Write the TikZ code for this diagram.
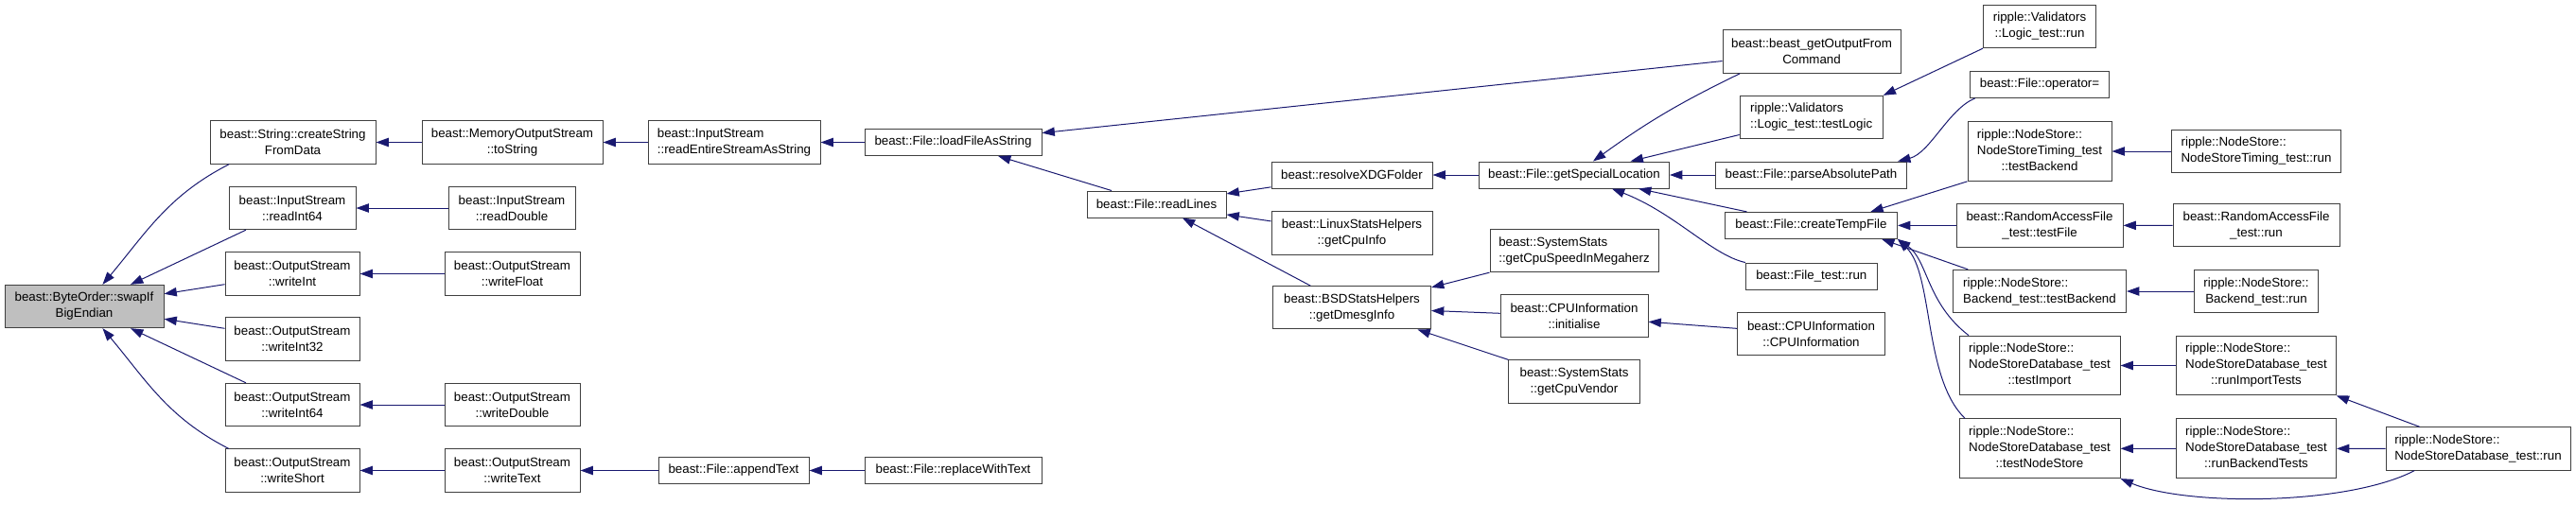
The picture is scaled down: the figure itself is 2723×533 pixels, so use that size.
\documentclass[tikz,border=0pt]{standalone}
\usepackage{fontspec}
\setmainfont{Liberation Sans}
\usetikzlibrary{arrows.meta}
\definecolor{callblue}{RGB}{25,25,112}
\definecolor{focusgray}{RGB}{191,191,191}
\newcommand{\threeline}[3]{\begin{tabular}{@{}l@{}}#1\\#2\\\multicolumn{1}{@{}c@{}}{#3}\end{tabular}}
\tikzset{fn/.style={draw=black!75,line width=0.75pt,fill=white,inner xsep=3pt,inner ysep=1pt,
  minimum height=21pt,align=center,font=\fontsize{10}{12.75}\selectfont},
 two/.style={minimum height=34pt},three/.style={minimum height=47pt},
 wd/.style={minimum width=#1*0.75pt},
 lft/.style={align=left},focus/.style={fill=focusgray},
 call/.style={-{Triangle[length=10pt,width=7pt]},callblue,line width=0.75pt}}

\begin{document}
\begin{tikzpicture}[x=0.75pt,y=-0.75pt]
\useasboundingbox (0,0) rectangle (2723,533);
% ByteOrder and the streams
\node[fn,two,focus,wd=168] (swap) at (89,324) {beast::ByteOrder::swapIf\\BigEndian};
\node[fn,two,wd=175] (cs) at (309.5,150.5) {beast::String::createString\\FromData};
\node[fn,two,wd=134] (ri64) at (309,220) {beast::InputStream\\::readInt64};
\node[fn,two,wd=142] (wi) at (309,289.5) {beast::OutputStream\\::writeInt};
\node[fn,two,wd=142] (wi32) at (309,358.5) {beast::OutputStream\\::writeInt32};
\node[fn,two,wd=142] (wi64) at (309,428) {beast::OutputStream\\::writeInt64};
\node[fn,two,wd=142] (wsh) at (309,497.5) {beast::OutputStream\\::writeShort};
\node[fn,two,wd=191] (mts) at (541.5,150.5) {beast::MemoryOutputStream\\::toString};
\node[fn,two,wd=134] (rdbl) at (541,220) {beast::InputStream\\::readDouble};
\node[fn,two,wd=143] (wfl) at (541.5,289.5) {beast::OutputStream\\::writeFloat};
\node[fn,two,wd=143] (wdbl) at (541.5,428) {beast::OutputStream\\::writeDouble};
\node[fn,two,wd=143] (wtxt) at (541.5,497.5) {beast::OutputStream\\::writeText};
\node[fn,two,lft,wd=182] (rea) at (776,150.5) {beast::InputStream\\::readEntireStreamAsString};
\node[fn,wd=159] (apt) at (775.5,497.5) {beast::File::appendText};
% File
\node[fn,wd=187] (lfs) at (1007.5,150.5) {beast::File::loadFileAsString};
\node[fn,wd=187] (rwt) at (1007.5,497.5) {beast::File::replaceWithText};
\node[fn,wd=147] (rl) at (1222.5,216) {beast::File::readLines};
\node[fn,wd=170] (xdg) at (1429,185) {beast::resolveXDGFolder};
\node[fn,two,wd=170] (lsh) at (1429,246.5) {beast::LinuxStatsHelpers\\::getCpuInfo};
\node[fn,two,wd=167] (bsd) at (1429,325.3) {beast::BSDStatsHelpers\\::getDmesgInfo};
\node[fn,wd=201] (gsl) at (1664,185) {beast::File::getSpecialLocation};
\node[fn,two,lft,wd=178] (cpus) at (1664,265.3) {beast::SystemStats\\::getCpuSpeedInMegaherz};
\node[fn,two,wd=156] (cpuinit) at (1664,334.3) {beast::CPUInformation\\::initialise};
\node[fn,two,wd=139] (cpuv) at (1664,403.6) {beast::SystemStats\\::getCpuVendor};
\node[fn,two,wd=188] (bout) at (1915,54.6) {beast::beast\_getOutputFrom\\Command};
\node[fn,two,lft,wd=151] (tlogic) at (1914.7,124) {ripple::Validators\\::Logic\_test::testLogic};
\node[fn,wd=202] (pap) at (1914.5,185) {beast::File::parseAbsolutePath};
\node[fn,wd=182] (ctf) at (1914.5,238.4) {beast::File::createTempFile};
\node[fn,wd=139] (ftr) at (1914.8,292) {beast::File\_test::run};
\node[fn,two,wd=156] (cpuctor) at (1914.5,353.3) {beast::CPUInformation\\::CPUInformation};
% tests
\node[fn,two,wd=119] (lrun) at (2156,28) {ripple::Validators\\::Logic\_test::run};
\node[fn,wd=147] (opeq) at (2156,89.4) {beast::File::operator=};
\node[fn,three,wd=152] (ttb) at (2156,160) {\threeline{ripple::NodeStore::}{NodeStoreTiming\_test}{::testBackend}};
\node[fn,two,wd=176] (tfile) at (2156,238.4) {beast::RandomAccessFile\\\_test::testFile};
\node[fn,two,lft,wd=183] (btb) at (2156,308) {ripple::NodeStore::\\Backend\_test::testBackend};
\node[fn,three,wd=170] (timp) at (2156,386.5) {\threeline{ripple::NodeStore::}{NodeStoreDatabase\_test}{::testImport}};
\node[fn,three,wd=170] (tns) at (2156,474.3) {\threeline{ripple::NodeStore::}{NodeStoreDatabase\_test}{::testNodeStore}};
\node[fn,two,lft,wd=179] (trun) at (2385,160) {ripple::NodeStore::\\NodeStoreTiming\_test::run};
\node[fn,two,wd=176] (rrun) at (2385,238.3) {beast::RandomAccessFile\\\_test::run};
\node[fn,two,wd=131] (brun) at (2385,308) {ripple::NodeStore::\\Backend\_test::run};
\node[fn,three,wd=169] (rit) at (2385,386.5) {\threeline{ripple::NodeStore::}{NodeStoreDatabase\_test}{::runImportTests}};
\node[fn,three,wd=169] (rbt) at (2385,474.3) {\threeline{ripple::NodeStore::}{NodeStoreDatabase\_test}{::runBackendTests}};
\node[fn,two,lft,wd=195] (dbrun) at (2619.5,474.5) {ripple::NodeStore::\\NodeStoreDatabase\_test::run};
% calls, arrow at the callee
\foreach \a/\b in {ri64/swap,wi/swap,wi32/swap,wi64/swap,mts/cs,rdbl/ri64,wfl/wi,wdbl/wi64,
  wtxt/wsh,rea/mts,apt/wtxt,lfs/rea,rwt/apt,bout/lfs,rl/lfs,xdg/rl,lsh/rl,bsd/rl,gsl/xdg,
  cpus/bsd,cpuinit/bsd,cpuv/bsd,cpuctor/cpuinit,tlogic/gsl,pap/gsl,ctf/gsl,tfile/ctf,
  trun/ttb,rrun/tfile,brun/btb,rit/timp,rbt/tns,dbrun/rbt,dbrun/rit}
  \draw[call] (\a) -- (\b);
\draw[call] (cs.199) to[out=207,in=50] (swap.50);
\draw[call] (wsh.161) to[out=153,in=-50] (swap.-50);
\draw[call] (bout.197) to[bend right=5] (gsl.36);
\draw[call] (ftr.north west) .. controls (1810,270) and (1770,225) .. (gsl.-20);
\draw[call] (lrun.south west) -- (tlogic.north east);
\draw[call] (opeq.192) .. controls (2060,115) and (2040,162) .. (pap.9.7);
\draw[call] (ttb.south west) -- (ctf.13.5);
\draw[call] (btb.163) -- (ctf.-11.5);
\draw[call] (timp.157.6) .. controls (2036,320) and (2038,275) .. (ctf.-9.5);
\draw[call] (tns.158) .. controls (2033,400) and (2044,290) .. (ctf.-9);
\draw[call] (dbrun.199) .. controls (2480,535) and (2310,535) .. (tns.south east);
\end{tikzpicture}
\end{document}
